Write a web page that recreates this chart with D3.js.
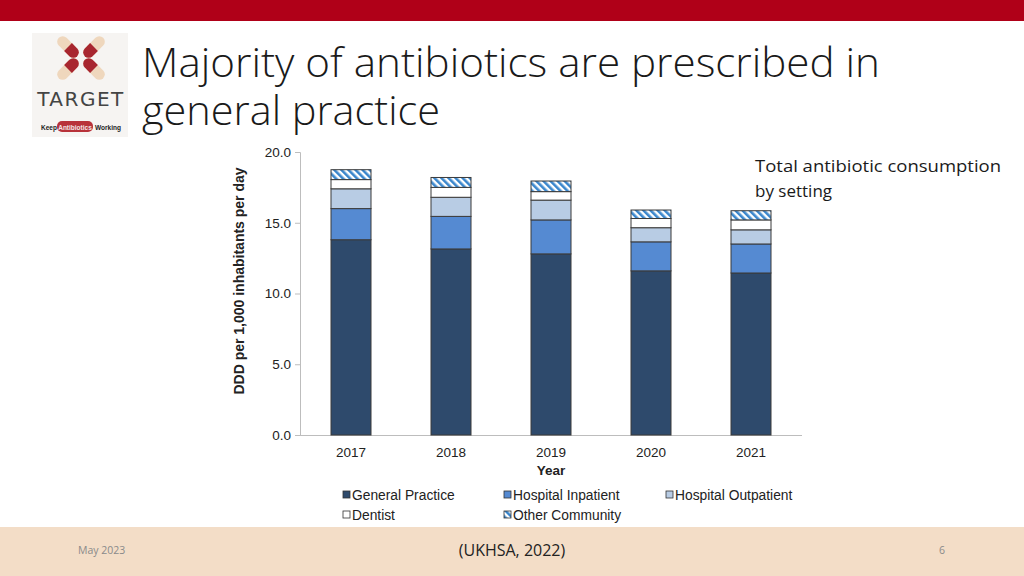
<!DOCTYPE html>
<html><head><meta charset="utf-8">
<script src="https://cdn.jsdelivr.net/npm/d3@7"></script>
<style>html,body{margin:0;padding:0;background:#fff;overflow:hidden}</style>
</head><body>
<svg id="c" width="1024" height="576"></svg>
<script>
const years = ["2017","2018","2019","2020","2021"];
const seriesNames = ["General Practice","Hospital Inpatient","Hospital Outpatient","Dentist","Other Community"];
const generalPractice   = [13.8, 13.15, 12.8, 11.6, 11.45];
const hospitalInpatient = [2.2, 2.3, 2.4, 2.05, 2.05];
const hospitalOutpatient= [1.4, 1.35, 1.4, 1.0, 1.0];
const dentist           = [0.65, 0.7, 0.6, 0.65, 0.7];
const otherCommunity    = [0.7, 0.7, 0.75, 0.6, 0.65];
const yTicks = [0, 5, 10, 15, 20];

const svg = d3.select("#c");
const defs = svg.append("defs");
const pat = defs.append("pattern").attr("id","hatch").attr("patternUnits","userSpaceOnUse")
  .attr("width",5).attr("height",5).attr("patternTransform","rotate(-45)");
pat.append("rect").attr("width",5).attr("height",5).attr("fill","#fff");
pat.append("rect").attr("width",2.6).attr("height",5).attr("fill","#3a86cc");

// top bar
svg.append("rect").attr("x",0).attr("y",0).attr("width",1024).attr("height",21).attr("fill","#b00018");
// footer
svg.append("rect").attr("x",0).attr("y",527).attr("width",1024).attr("height",49).attr("fill","#f3ddc7");
svg.append("text").attr("x",78).attr("y",554).attr("font-family","Open Sans, sans-serif").attr("font-size",10.5).attr("fill","#8a8a8a").text("May 2023");
svg.append("text").attr("x",512).attr("y",556).attr("text-anchor","middle").attr("font-family","Open Sans, sans-serif").attr("font-size",16).attr("fill","#222").text("(UKHSA, 2022)");
svg.append("text").attr("x",942).attr("y",554).attr("text-anchor","middle").attr("font-family","Open Sans, sans-serif").attr("font-size",10.5).attr("fill","#8a8a8a").text("6");

// logo
const logo = svg.append("g");
logo.append("rect").attr("x",32).attr("y",33).attr("width",96).attr("height",104).attr("fill","#f6f4f2");
const cx = 81, cy = 58;
[[-1,-1],[1,-1],[-1,1],[1,1]].forEach(([sx,sy])=>{
  const ang = Math.atan2(sy,sx)*180/Math.PI;
  const g = logo.append("g").attr("transform",`translate(${cx+sx*13},${cy+sy*11}) rotate(${ang})`);
  g.append("rect").attr("x",-13).attr("y",-5.5).attr("width",26).attr("height",11).attr("rx",5.5).attr("fill","#efd7bd");
  g.append("path").attr("d","M-7.5,-5.5 L0,-5.5 L0,5.5 L-7.5,5.5 A5.5,5.5 0 0 1 -7.5,-5.5Z").attr("fill","#a8262f");
});
logo.append("text").attr("x",81).attr("y",106).attr("text-anchor","middle").attr("font-family","DejaVu Sans, sans-serif").attr("font-size",20).attr("letter-spacing",1.5).attr("fill","#444").text("TARGET");
logo.append("rect").attr("x",57).attr("y",121).attr("width",36).attr("height",11).attr("rx",5).attr("fill","#b8323a");
const lf = "Liberation Sans, sans-serif";
logo.append("text").attr("x",41).attr("y",129.5).attr("font-family",lf).attr("font-size",6.5).attr("font-weight","bold").attr("fill","#222").text("Keep");
logo.append("text").attr("x",75).attr("y",129.5).attr("text-anchor","middle").attr("font-family",lf).attr("font-size",6.5).attr("font-weight","bold").attr("fill","#f2e6e6").text("Antibiotics");
logo.append("text").attr("x",95).attr("y",129.5).attr("font-family",lf).attr("font-size",6.5).attr("font-weight","bold").attr("fill","#222").text("Working");

// title
const tf = "Open Sans, sans-serif";
svg.append("text").attr("x",142).attr("y",77).attr("font-family",tf).attr("font-weight",300).attr("font-size",40).attr("fill","#1a1a1a")
  .attr("textLength",738).attr("lengthAdjust","spacingAndGlyphs").text("Majority of antibiotics are prescribed in");
svg.append("text").attr("x",142).attr("y",125).attr("font-family",tf).attr("font-weight",300).attr("font-size",40).attr("fill","#1a1a1a")
  .attr("textLength",298).attr("lengthAdjust","spacingAndGlyphs").text("general practice");

// annotation
svg.append("text").attr("x",755).attr("y",172).attr("font-family",tf).attr("font-size",17).attr("fill","#1a1a1a")
  .attr("textLength",246).attr("lengthAdjust","spacingAndGlyphs").text("Total antibiotic consumption");
svg.append("text").attr("x",755).attr("y",197).attr("font-family",tf).attr("font-size",17).attr("fill","#1a1a1a").text("by setting");

// chart
const x = d3.scaleBand().domain(years).range([301,801]).paddingInner(0.6).paddingOuter(0.3);
const y = d3.scaleLinear().domain([0,20]).range([435,152]);
const data = years.map((yr,i)=>({year:yr,
  "General Practice":generalPractice[i],"Hospital Inpatient":hospitalInpatient[i],
  "Hospital Outpatient":hospitalOutpatient[i],"Dentist":dentist[i],"Other Community":otherCommunity[i]}));
const stack = d3.stack().keys(seriesNames)(data);
const fills = {"General Practice":"#2e4a6c","Hospital Inpatient":"#558ad2","Hospital Outpatient":"#b8cce4","Dentist":"#ffffff","Other Community":"url(#hatch)"};

const fontA = "Liberation Sans, Arial, sans-serif";
// y axis
const yAxis = d3.axisLeft(y).tickValues(yTicks).tickFormat(d3.format(".1f")).tickSize(5);
const ga = svg.append("g").attr("transform","translate(300,0)").call(yAxis);
ga.select(".domain").attr("stroke","#bdbdbd");
ga.selectAll(".tick line").attr("stroke","#bdbdbd");
ga.selectAll(".tick text").attr("font-family",fontA).attr("font-size",13.5).attr("fill","#222").attr("x",-9);
// x axis
const xAxis = d3.axisBottom(x).tickSize(0);
const gx = svg.append("g").attr("transform","translate(0,435)").call(xAxis);
gx.select(".domain").attr("stroke","#bdbdbd").attr("d","M300,0.5H802");
gx.selectAll(".tick text").attr("font-family",fontA).attr("font-size",13.5).attr("fill","#222").attr("dy","1.4em");

svg.append("text").attr("x",551).attr("y",475).attr("text-anchor","middle").attr("font-family",fontA).attr("font-weight","bold").attr("font-size",13.5).attr("fill","#222").text("Year");
svg.append("text").attr("transform","translate(244,281) rotate(-90)").attr("text-anchor","middle").attr("font-family",fontA).attr("font-weight","bold").attr("font-size",14).attr("fill","#222").text("DDD per 1,000 inhabitants per day");

svg.append("g").selectAll("g").data(stack).join("g")
  .attr("fill",d=>fills[d.key])
  .selectAll("rect").data(d=>d).join("rect")
  .attr("x",d=>x(d.data.year)).attr("width",x.bandwidth())
  .attr("y",d=>y(d[1])).attr("height",d=>y(d[0])-y(d[1]))
  .attr("stroke","#3a3a3a").attr("stroke-width",1);

// legend
const legPos = [[343,495],[504,495],[666,495],[343,515],[504,515]];
const lg = svg.append("g");
seriesNames.forEach((s,i)=>{
  const [lx,ly] = legPos[i];
  lg.append("rect").attr("x",lx).attr("y",ly-4).attr("width",7).attr("height",7).attr("fill",fills[s]).attr("stroke","#333").attr("stroke-width",0.8);
  lg.append("text").attr("x",lx+9).attr("y",ly+5).attr("font-family",fontA).attr("font-size",13.8).attr("fill","#222").text(s);
});
</script>
</body></html>
